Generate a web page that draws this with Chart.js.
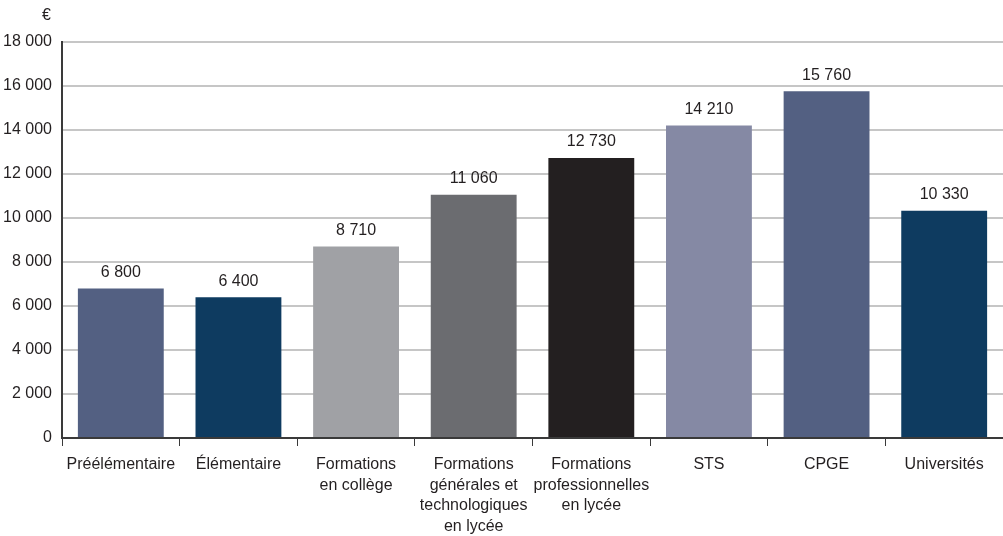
<!DOCTYPE html>
<html>
<head>
<meta charset="utf-8">
<script src="https://cdn.jsdelivr.net/npm/chart.js@4/dist/chart.umd.min.js"></script>
<style>
  html, body { margin: 0; padding: 0; background: #fff; }
  #wrap { width: 1003px; height: 536px; position: relative; }
</style>
</head>
<body>
<div id="wrap"><canvas id="chart"></canvas></div>
<script>
// chart data
const categories = [
  'Préélémentaire',
  'Élémentaire',
  ['Formations', 'en collège'],
  ['Formations', 'générales et', 'technologiques', 'en lycée'],
  ['Formations', 'professionnelles', 'en lycée'],
  'STS',
  'CPGE',
  'Universités'
];
const costs = [6800, 6400, 8710, 11060, 12730, 14210, 15760, 10330];
const barColors = ['#536082', '#0e3b60', '#a0a1a5', '#6b6c70', '#231f20', '#8589a4', '#536082', '#0e3b60'];
const yTicks = [0, 2000, 4000, 6000, 8000, 10000, 12000, 14000, 16000, 18000];

const FONT = '"Liberation Sans Narrow", "Liberation Sans", Arial, sans-serif';

// format numbers with a space as thousands separator
function fmt(v){
  return String(v).replace(/\B(?=(\d{3})+(?!\d))/g, ' ');
}

// draw value labels above bars and the € unit
const labelsPlugin = {
  id: 'barLabels',
  afterDatasetsDraw(chart){
    const ctx = chart.ctx;
    const meta = chart.getDatasetMeta(0);
    ctx.save();
    ctx.fillStyle = '#231f20';
    ctx.font = '16px ' + FONT;
    ctx.textAlign = 'center';
    ctx.textBaseline = 'bottom';
    meta.data.forEach((bar, i) => {
      ctx.fillText(fmt(costs[i]), bar.x, bar.y - 8);
    });
    ctx.textAlign = 'right';
    ctx.textBaseline = 'middle';
    ctx.fillText('€', 51, 16);
    ctx.restore();
  }
};

new Chart(document.getElementById('chart'), {
  type: 'bar',
  data: {
    labels: categories,
    datasets: [{
      data: costs,
      backgroundColor: barColors,
      borderWidth: 0,
      barPercentage: 0.73,
      categoryPercentage: 1
    }]
  },
  options: {
    responsive: true,
    maintainAspectRatio: false,
    animation: false,
    layout: { padding: { top: 42, right: 0, left: 0, bottom: 0 } },
    plugins: { legend: { display: false }, tooltip: { enabled: false } },
    scales: {
      x: {
        offset: true,
        grid: {
          offset: true,
          drawOnChartArea: false,
          drawTicks: true,
          tickLength: 8,
          color: '#3a3a3a',
          lineWidth: 1
        },
        border: { display: true, color: '#3a3a3a', width: 2 },
        ticks: {
          color: '#231f20',
          font: { family: FONT, size: 16, lineHeight: 1.3 },
          maxRotation: 0,
          autoSkip: false,
          padding: 8
        },
        afterFit(scale){ scale.height = 98; }
      },
      y: {
        min: 0,
        max: 18000,
        afterBuildTicks(scale){ scale.ticks = yTicks.map(v => ({ value: v })); },
        grid: {
          color: '#c6c6c6',
          lineWidth: 2,
          drawTicks: false
        },
        border: { display: true, color: '#3a3a3a', width: 2 },
        ticks: {
          color: '#231f20',
          font: { family: FONT, size: 16 },
          padding: 10,
          callback: v => fmt(v)
        },
        afterFit(scale){ scale.width = 62; }
      }
    }
  },
  plugins: [labelsPlugin]
});
</script>
</body>
</html>
